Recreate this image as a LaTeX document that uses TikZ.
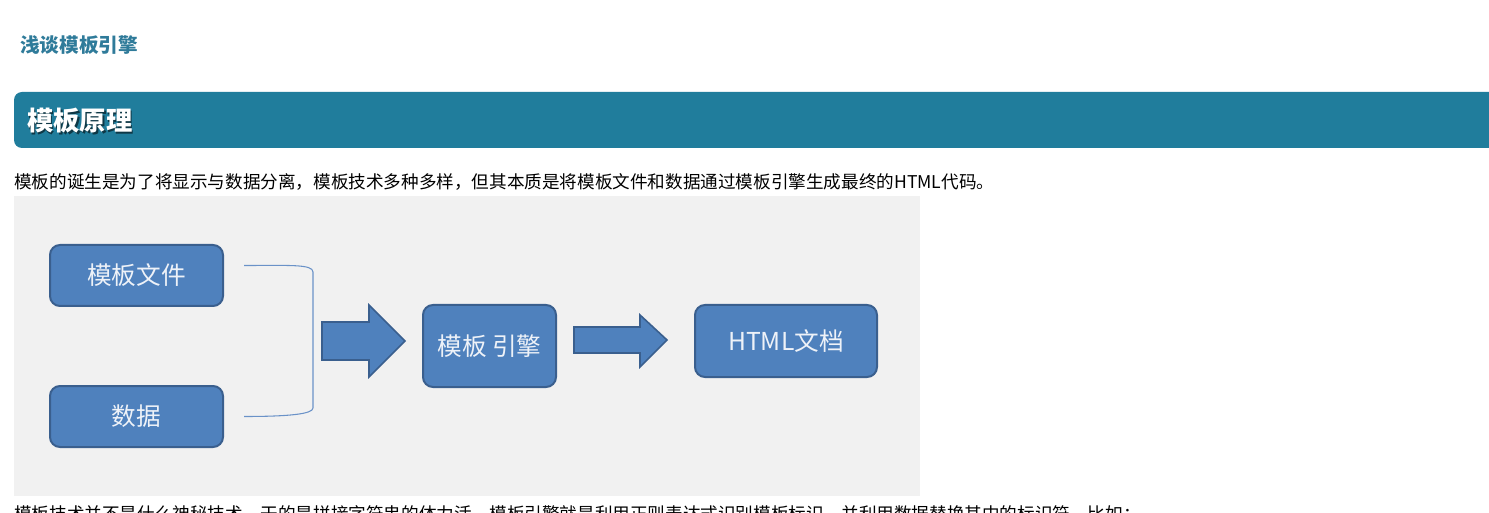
\documentclass[tikz,border=0pt]{standalone}
\usepackage{fontspec}
\newfontfamily\cjk{Noto Sans CJK SC}
\usetikzlibrary{positioning,calc}

\definecolor{titleblue}{HTML}{2F7B9A}
\definecolor{barblue}{HTML}{207D9C}
\definecolor{boxfill}{HTML}{4F81BD}
\definecolor{boxline}{HTML}{3A5F8E}
\definecolor{boxtext}{HTML}{EEF2F8}
\definecolor{bracketblue}{HTML}{6A92C8}
\definecolor{paper}{HTML}{F1F1F1}

\begin{document}
\begin{tikzpicture}[x=0.75pt, y=-0.75pt,
  box/.style={draw=boxline, line width=1.5pt, fill=boxfill, rounded corners=7.5pt,
    text=boxtext, font=\cjk\fontsize{18.5}{22}\selectfont, inner sep=0pt},
  bigarrow/.style={draw=boxline, line width=1.2pt, fill=boxfill},
  every node/.style={inner sep=0pt}]
\clip (0,0) rectangle (1489,513);
\fill[white] (0,0) rectangle (1489,513);

% page title and header bar
\node[anchor=west, text=titleblue, font=\cjk\bfseries\fontsize{14.7}{17}\selectfont] (title) at (20,45) {浅谈模板引擎};
\fill[barblue, rounded corners=6pt] (14,92) rectangle (1520,148);
\node[anchor=west, text=black, opacity=0.55, font=\cjk\bfseries\fontsize{19.7}{23}\selectfont] at (28.5,122.5) {模板原理};
\node[anchor=west, text=white, font=\cjk\bfseries\fontsize{19.7}{23}\selectfont] (head) at (27,121) {模板原理};
\node[anchor=west, font=\cjk\fontsize{13.2}{16}\selectfont] (intro) at (14,182)
  {模板的诞生是为了将显示与数据分离，模板技术多种多样，但其本质是将模板文件和数据通过模板引擎生成最终的HTML代码。};

% the picture
\fill[paper] (14,196) rectangle (920,496);
\node[box, minimum width=129.75pt, minimum height=45.75pt] (file) at (136.5,275.5) {模板文件};
\node[box, minimum width=129.75pt, minimum height=45.75pt] (data) at (136.5,416.5) {数据};
\node[box, minimum width=99.75pt, minimum height=61.5pt] (engine) at (489.5,346) {模板 引擎};
\node[box, minimum width=136.5pt, minimum height=54pt] (html) at (786,341) {HTML文档};

% bracket joining the two inputs
\coordinate (bt) at ([shift={(20,-10)}]file.east);
\coordinate (bb) at ([shift={(20,0)}]data.east);
\draw[bracketblue, line width=0.8pt] (bt) .. controls +(45,0) and (313,264) .. (313,272)
  -- (313,408) .. controls (313,414) and ($(bb)+(45,0)$) .. (bb);

% block arrows
\draw[bigarrow] (322,322) -- (369,322) -- (369,305) -- (405,341) -- (369,377) -- (369,360) -- (322,360) -- cycle;
\draw[bigarrow] (574,327) -- (640,327) -- (640,315) -- (667,340) -- (640,367) -- (640,353) -- (574,353) -- cycle;

% next paragraph, cut off at the bottom
\node[anchor=west, font=\cjk\fontsize{13.2}{16}\selectfont] (next) at (14,514)
  {模板技术并不是什么神秘技术，干的是拼接字符串的体力活。模板引擎就是利用正则表达式识别模板标识，并利用数据替换其中的标识符。比如：};
\end{tikzpicture}
\end{document}
